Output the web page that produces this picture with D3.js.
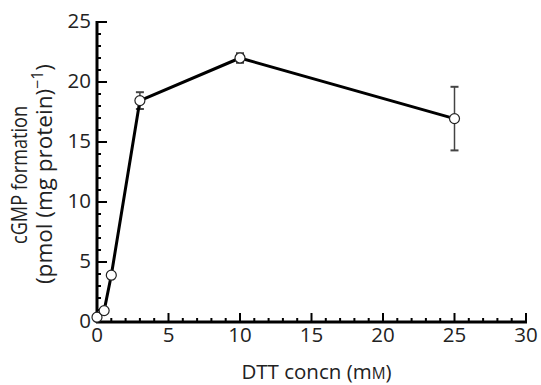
<!DOCTYPE html>
<html><head><meta charset="utf-8">
<script src="https://cdn.jsdelivr.net/npm/d3@7"></script>
<style>body{margin:0;background:#fff}svg{display:block}text{font-family:"Open Sans",sans-serif;fill:#222}</style>
</head><body><svg id="c" width="541" height="385"></svg>
<script>
const xVals = [0, 0.5, 1, 3, 10, 25];
const yVals = [0.4, 0.95, 3.9, 18.45, 22.0, 16.95];
const yErr  = [0, 0, 0, 0.7, 0.4, 2.65];
const xTicks = [0, 5, 10, 15, 20, 25, 30];
const yTicks = [0, 5, 10, 15, 20, 25];
const xLabel = "DTT concn (m";
const yLabel1 = "cGMP formation";
const yLabel2 = "(pmol (mg protein)";

const svg = d3.select("#c");
const x = d3.scaleLinear().domain([0, 30]).range([97, 526]);
const y = d3.scaleLinear().domain([0, 25]).range([322, 22]);
const fs = 20.5;

// X axis
const gx = svg.append("g").attr("transform", `translate(0,${y(0)})`);
gx.append("line").attr("x1", x(0)-1).attr("x2", x(30)+1).attr("stroke", "#000").attr("stroke-width", 3);
gx.selectAll(".mn").data(d3.range(0, 31)).join("line")
  .attr("x1", d => x(d)).attr("x2", d => x(d))
  .attr("y1", 0).attr("y2", d => d % 5 === 0 ? -9 : -4)
  .attr("stroke", "#000").attr("stroke-width", 2);
gx.selectAll(".tl").data(xTicks).join("text")
  .attr("x", d => x(d)).attr("y", 20).attr("text-anchor", "middle")
  .attr("font-size", fs).text(d => d);

// Y axis
const gy = svg.append("g").attr("transform", `translate(${x(0)},0)`);
gy.append("line").attr("y1", y(0)+1).attr("y2", y(25)-1).attr("stroke", "#000").attr("stroke-width", 3);
gy.selectAll(".mn").data(d3.range(0, 26)).join("line")
  .attr("y1", d => y(d)).attr("y2", d => y(d))
  .attr("x1", 0).attr("x2", d => d % 5 === 0 ? 10 : 4)
  .attr("stroke", "#000").attr("stroke-width", 2);
gy.selectAll(".tl").data(yTicks).join("text")
  .attr("x", -6).attr("y", d => y(d)).attr("dy", "0.31em").attr("text-anchor", "end")
  .attr("font-size", fs).text(d => d);

// Axis labels
const xl = svg.append("text").attr("x", 316.5).attr("y", 379).attr("text-anchor", "middle").attr("font-size", 20.5);
xl.append("tspan").text(xLabel);
xl.append("tspan").attr("font-size", 20.5*0.75).text("M");
xl.append("tspan").text(")");

svg.append("text").attr("transform", "translate(27,175) rotate(-90)").attr("text-anchor", "middle")
  .attr("font-size", 21.5).attr("textLength", 138).attr("lengthAdjust", "spacingAndGlyphs").text(yLabel1);
const yl2 = svg.append("text").attr("transform", "translate(52,174) rotate(-90)").attr("text-anchor", "middle").attr("font-size", 22.5);
yl2.append("tspan").text(yLabel2);
yl2.append("tspan").attr("font-size", 16).attr("dy", -9).text("\u22121");
yl2.append("tspan").attr("dy", 9).text(")");

// Error bars
const data = xVals.map((d, i) => ({x: d, y: yVals[i], e: yErr[i]}));
const eb = svg.append("g").attr("stroke", "#444").attr("stroke-width", 1.5);
data.filter(d => d.e > 0).forEach(d => {
  eb.append("line").attr("x1", x(d.x)).attr("x2", x(d.x)).attr("y1", y(d.y + d.e)).attr("y2", y(d.y - d.e));
  [d.y + d.e, d.y - d.e].forEach(v => eb.append("line").attr("x1", x(d.x)-4).attr("x2", x(d.x)+4).attr("y1", y(v)).attr("y2", y(v)).attr("stroke-width", 2));
});

// Line
svg.append("path").datum(data)
  .attr("d", d3.line().x(d => x(d.x)).y(d => y(d.y)))
  .attr("fill", "none").attr("stroke", "#000").attr("stroke-width", 3).attr("stroke-linejoin", "round");

// Points
svg.selectAll(".pt").data(data).join("circle")
  .attr("cx", d => x(d.x)).attr("cy", d => y(d.y)).attr("r", 5)
  .attr("fill", "#fff").attr("stroke", "#222").attr("stroke-width", 1.2);
</script></body></html>
